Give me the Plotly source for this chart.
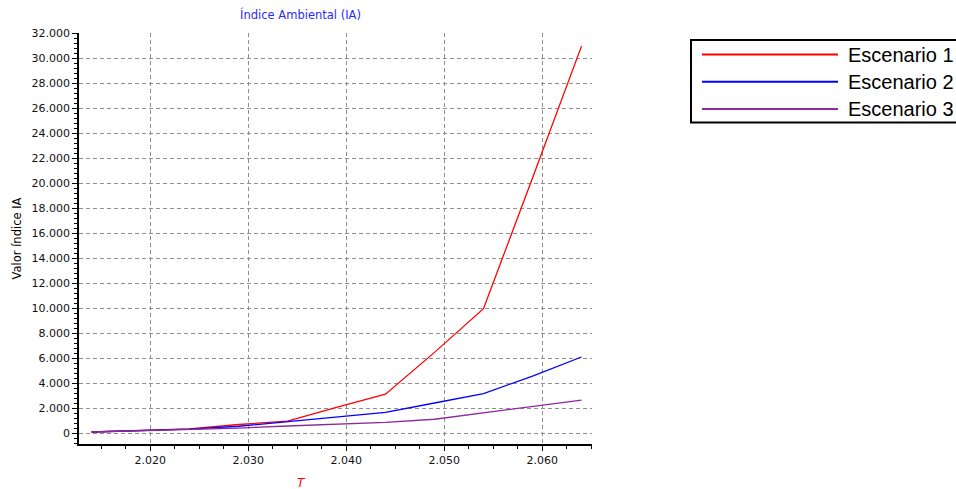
import plotly.graph_objects as go

# ---- data ----
years = [2014, 2019, 2024, 2029, 2034, 2039, 2044, 2049, 2054, 2059, 2064]
escenario_1 = [80, 180, 330, 680, 950, 2050, 3100, 6450, 9950, 20400, 30950]
escenario_2 = [80, 170, 310, 540, 900, 1300, 1650, 2400, 3150, 4550, 6080]
escenario_3 = [80, 170, 260, 390, 560, 700, 850, 1100, 1600, 2100, 2630]
series_names = ["Escenario 1", "Escenario 2", "Escenario 3"]
series_values = [escenario_1, escenario_2, escenario_3]
colors = ["#ff0000", "#0000ff", "#8b2a9b"]

W, H = 956, 489
ML, MR, MT, MB = 79, 364, 33, 45
PW, PH = W - ML - MR, H - MT - MB

def px(x):
    return (x - ML) / PW

def py(y):
    return (H - MB - y) / PH

fig = go.Figure()
for name, vals, col in zip(series_names, series_values, colors):
    fig.add_trace(go.Scatter(x=years, y=vals, mode="lines", name=name,
                             line=dict(color=col, width=1.3), showlegend=False,
                             hoverinfo="skip"))

tick_font = dict(family="DejaVu Sans", size=11, color="#111111")
axis_common = dict(
    showline=True, linecolor="black", linewidth=1.5, mirror=False,
    ticks="outside", ticklen=5, tickcolor="black", tickwidth=1,
    showgrid=True, gridcolor="#8f8f8f", gridwidth=1, griddash="4px,3px",
    zeroline=False, tickfont=tick_font, tickformat=",d",
)

fig.update_xaxes(range=[2012.73, 2065.07], dtick=10, tick0=2020,
                 minor=dict(dtick=2.5, tick0=2020, ticks="outside", ticklen=3,
                            tickcolor="black", showgrid=False),
                 **axis_common)
fig.update_yaxes(range=[-880, 32000], dtick=2000, tick0=0,
                 minor=dict(dtick=400, tick0=0, ticks="outside", ticklen=3,
                            tickcolor="black", showgrid=False),
                 title=dict(text="Valor índice IA", font=dict(family="DejaVu Sans", size=11.5, color="black"),
                            standoff=8),
                 **axis_common)

annotations = [
    dict(text="<i>T</i>", x=px(301), y=py(483), xref="paper", yref="paper", showarrow=False,
         font=dict(family="DejaVu Sans", size=12, color="#ff0000"), xanchor="center", yanchor="middle"),
]
shapes = [
    dict(type="rect", xref="paper", yref="paper", x0=px(691), x1=px(965), y0=py(122.5), y1=py(40),
         line=dict(color="black", width=2), fillcolor="white", layer="above"),
]
legend_y = [54.5, 81.7, 109]
for name, col, ly in zip(series_names, colors, legend_y):
    shapes.append(dict(type="line", xref="paper", yref="paper", x0=px(702), x1=px(838),
                       y0=py(ly), y1=py(ly), line=dict(color=col, width=2)))
    annotations.append(dict(text=name, x=px(846), y=py(ly), xref="paper", yref="paper",
                            showarrow=False, xanchor="left", yanchor="middle",
                            font=dict(family="Liberation Sans", size=20, color="black")))

fig.update_layout(
    width=W, height=H,
    margin=dict(l=ML, r=MR, t=MT, b=MB),
    paper_bgcolor="white", plot_bgcolor="white",
    separators=",.",
    title=dict(text="Índice Ambiental (IA)", x=300.5 / W, xref="container", xanchor="center",
               y=1 - 15 / H, yref="container", yanchor="middle",
               font=dict(family="DejaVu Sans", size=11.5, color="#2a2aff")),
    showlegend=False,
    annotations=annotations,
    shapes=shapes,
)

fig.write_html("out.html", config={"displayModeBar": False},
               post_script="document.body.style.margin='0';document.body.style.overflow='hidden';")
